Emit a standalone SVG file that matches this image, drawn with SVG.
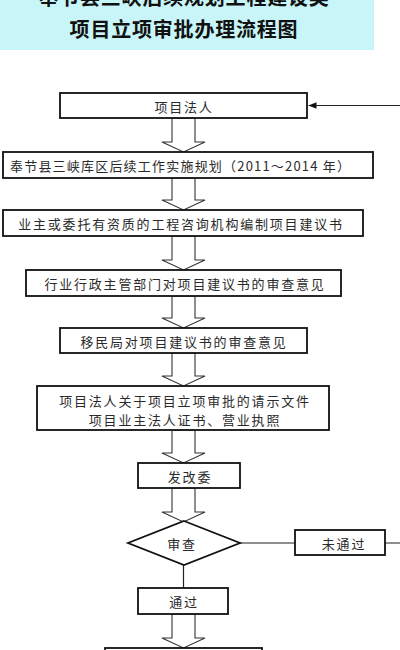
<svg xmlns="http://www.w3.org/2000/svg" width="400" height="650" viewBox="0 0 400 650">
<defs>
<style>
.box{fill:#fff;stroke:#111;stroke-width:1.8}
.t{font-family:"Noto Sans CJK SC","Liberation Serif",sans-serif;font-size:13px;fill:#2a2a2a;letter-spacing:1.8px;text-anchor:middle;dominant-baseline:central}
.title{font-family:"Noto Sans CJK SC","Liberation Sans",sans-serif;font-size:20px;font-weight:bold;fill:#111;text-anchor:middle;letter-spacing:0.8px}
.blk{fill:#fff;stroke:#333;stroke-width:1.1;stroke-linejoin:miter}
.ln{fill:none;stroke:#222;stroke-width:1.2}
</style>
<marker id="ah" viewBox="0 0 10 10" refX="10" refY="5" markerWidth="8" markerHeight="8" markerUnits="userSpaceOnUse" orient="auto">
<path d="M0,1 L10,5 L0,9 Z" fill="#111"/>
</marker>
</defs>
<g id="title">
<rect x="0" y="0" width="374" height="50" fill="#c8f6f8"/>
<text class="title" x="184" y="5">奉节县三峡后续规划工程建设类</text>
<text class="title" x="184" y="37">项目立项审批办理流程图</text>
</g>
<g id="connectors">
<polygon class="blk" points="172,118 172,142 162,142 183.5,152 205,142 195,142 195,118"/>
<polygon class="blk" points="172,178 172,200 162,200 183.5,210 205,200 195,200 195,178"/>
<polygon class="blk" points="172,236 172,260 162,260 183.5,270 205,260 195,260 195,236"/>
<polygon class="blk" points="172,296 172,318 162,318 183.5,328 205,318 195,318 195,296"/>
<polygon class="blk" points="172,353 172,376 162,376 183.5,386 205,376 195,376 195,353"/>
<polygon class="blk" points="172,430 172,453 162,453 183.5,463 205,453 195,453 195,430"/>
<polygon class="blk" points="172,488 172,512 162,512 183.5,522 205,512 195,512 195,488"/>
<polygon class="blk" points="172,614 172,638 162,638 183.5,648 205,638 195,638 195,614"/>
<line class="ln" x1="240" y1="543" x2="295" y2="543"/>
<line class="ln" x1="183.5" y1="565" x2="183.5" y2="588"/>
<path class="ln" d="M385,543 H406 V105.5 H308.5" marker-end="url(#ah)"/>
</g>
<g id="n1"><rect class="box" x="60" y="93" width="247" height="25"/><text class="t" x="184" y="106">项目法人</text></g>
<g id="n2"><rect class="box" x="3" y="152" width="370" height="26"/><text class="t" x="10" y="165" style="text-anchor:start;letter-spacing:0" textLength="340" lengthAdjust="spacing">奉节县三峡库区后续工作实施规划（2011～2014 年）</text></g>
<g id="n3"><rect class="box" x="3" y="210" width="360" height="26"/><text class="t" x="181" y="223">业主或委托有资质的工程咨询机构编制项目建议书</text></g>
<g id="n4"><rect class="box" x="26" y="270" width="315" height="26"/><text class="t" x="185" y="283">行业行政主管部门对项目建议书的审查意见</text></g>
<g id="n5"><rect class="box" x="60" y="328" width="247" height="25"/><text class="t" x="184" y="341">移民局对项目建议书的审查意见</text></g>
<g id="n6"><rect class="box" x="37" y="386" width="292" height="44"/><text class="t" x="185" y="400">项目法人关于项目立项审批的请示文件</text><text class="t" x="185" y="419">项目业主法人证书、营业执照</text></g>
<g id="n7"><rect class="box" x="138" y="463" width="102" height="25"/><text class="t" x="190" y="476">发改委</text></g>
<g id="n8"><polygon class="box" points="184,521 240,543 184,565 128,543"/><text class="t" x="182" y="543">审查</text></g>
<g id="n9"><rect class="box" x="295" y="530" width="90" height="25"/><text class="t" x="344" y="543">未通过</text></g>
<g id="n10"><rect class="box" x="138" y="588" width="90" height="26"/><text class="t" x="184" y="601">通过</text></g>
<g id="n11"><rect class="box" x="105" y="648" width="157" height="20"/></g>
</svg>
